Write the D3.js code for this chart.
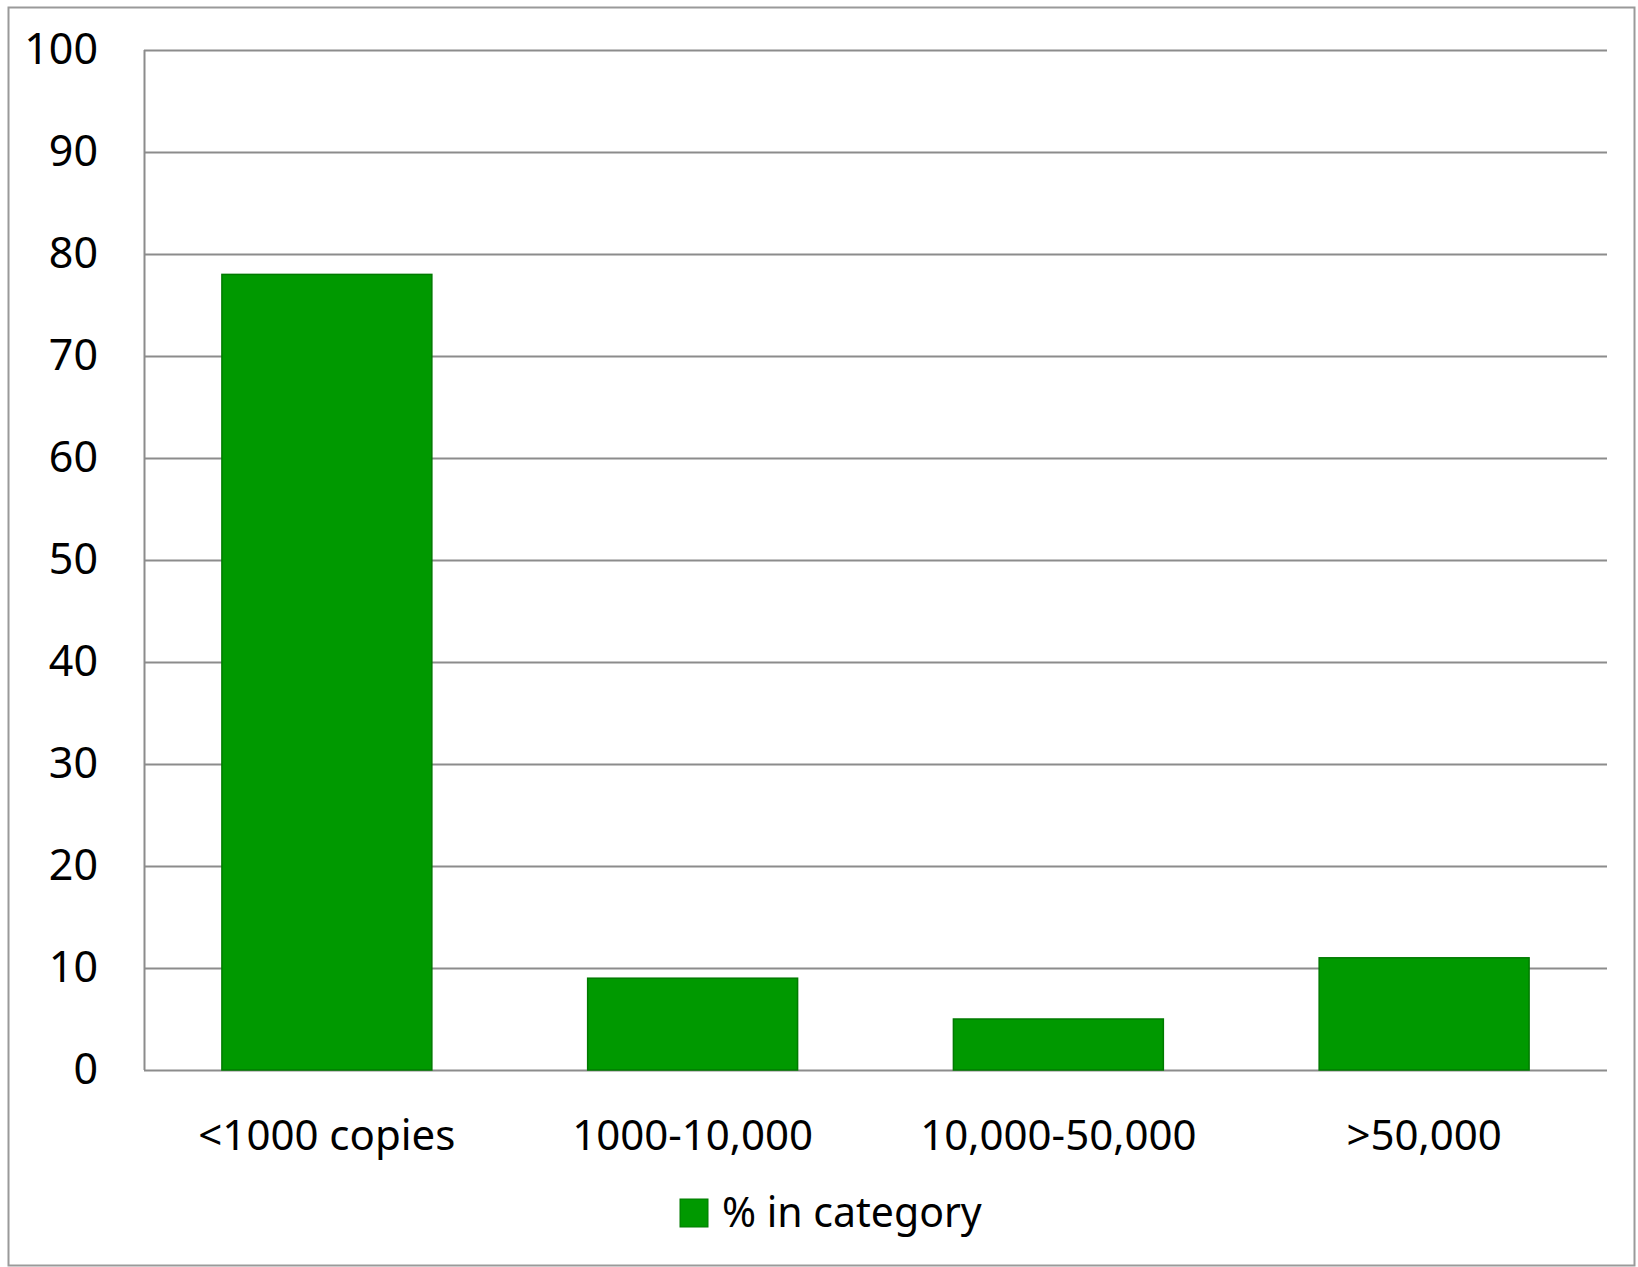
<!DOCTYPE html>
<html>
<head>
<meta charset="utf-8">
<script src="https://cdn.jsdelivr.net/npm/d3@7"></script>
<style>
  body { margin: 0; background: #fff; }
  svg { display: block; font-family: "Noto Sans", "Open Sans", sans-serif; }
</style>
</head>
<body>
<script>
// data
const categories = ["<1000 copies", "1000-10,000", "10,000-50,000", ">50,000"];
const values = [78, 9, 5, 11];
const yTicks = [0, 10, 20, 30, 40, 50, 60, 70, 80, 90, 100];
const seriesName = "% in category";

const width = 1638, height = 1267;
const margin = {top: 50, right: 31, bottom: 197, left: 144};

const svg = d3.select("body").append("svg")
  .attr("width", width)
  .attr("height", height);

// outer frame
svg.append("rect")
  .attr("x", 8.5).attr("y", 7.5)
  .attr("width", 1626).attr("height", 1258)
  .attr("fill", "white")
  .attr("stroke", "#9a9a9a")
  .attr("stroke-width", 2);

const x = d3.scaleBand()
  .domain(categories)
  .range([margin.left, width - margin.right])
  .paddingInner(0.426)
  .paddingOuter(0.213);

const y = d3.scaleLinear()
  .domain([0, 100])
  .range([height - margin.bottom, margin.top]);

// gridlines
svg.append("g")
  .selectAll("line")
  .data(yTicks)
  .join("line")
  .attr("x1", margin.left)
  .attr("x2", width - margin.right)
  .attr("y1", d => Math.round(y(d)) + 0.5)
  .attr("y2", d => Math.round(y(d)) + 0.5)
  .attr("stroke", "#8c8c8c")
  .attr("stroke-width", 2);

// y axis line
svg.append("line")
  .attr("x1", margin.left + 0.5).attr("x2", margin.left + 0.5)
  .attr("y1", y(100)).attr("y2", y(0))
  .attr("stroke", "#8c8c8c")
  .attr("stroke-width", 2);

// y labels
const yAxis = g => g
  .attr("transform", `translate(${margin.left - 46},0)`)
  .call(d3.axisLeft(y).tickValues(yTicks).tickSize(0).tickPadding(0))
  .call(g => g.select(".domain").remove())
  .call(g => g.selectAll("text")
    .attr("font-family", "Noto Sans")
    .attr("font-size", 43)
    .attr("fill", "#000"));
svg.append("g").call(yAxis);

// bars
svg.append("g")
  .selectAll("rect")
  .data(values)
  .join("rect")
  .attr("x", (d, i) => x(categories[i]))
  .attr("y", d => y(d))
  .attr("width", x.bandwidth())
  .attr("height", d => y(0) - y(d))
  .attr("fill", "#009900")
  .attr("stroke", "#007a00")
  .attr("stroke-width", 1.5);

// x labels
const xAxis = g => g
  .attr("transform", `translate(0,${y(0) + 50})`)
  .call(d3.axisBottom(x).tickSize(0).tickPadding(0))
  .call(g => g.select(".domain").remove())
  .call(g => g.selectAll("text")
    .attr("font-family", "Noto Sans")
    .attr("font-size", 42)
    .attr("fill", "#000"));
svg.append("g").call(xAxis);

// legend
const legend = svg.append("g").attr("transform", "translate(680,1199)");
legend.append("rect")
  .attr("width", 28).attr("height", 28)
  .attr("fill", "#009900")
  .attr("stroke", "#007a00")
  .attr("stroke-width", 1);
legend.append("text")
  .attr("x", 42).attr("y", 28)
  .attr("font-size", 41)
  .attr("fill", "#000")
  .text(seriesName);
</script>
</body>
</html>
